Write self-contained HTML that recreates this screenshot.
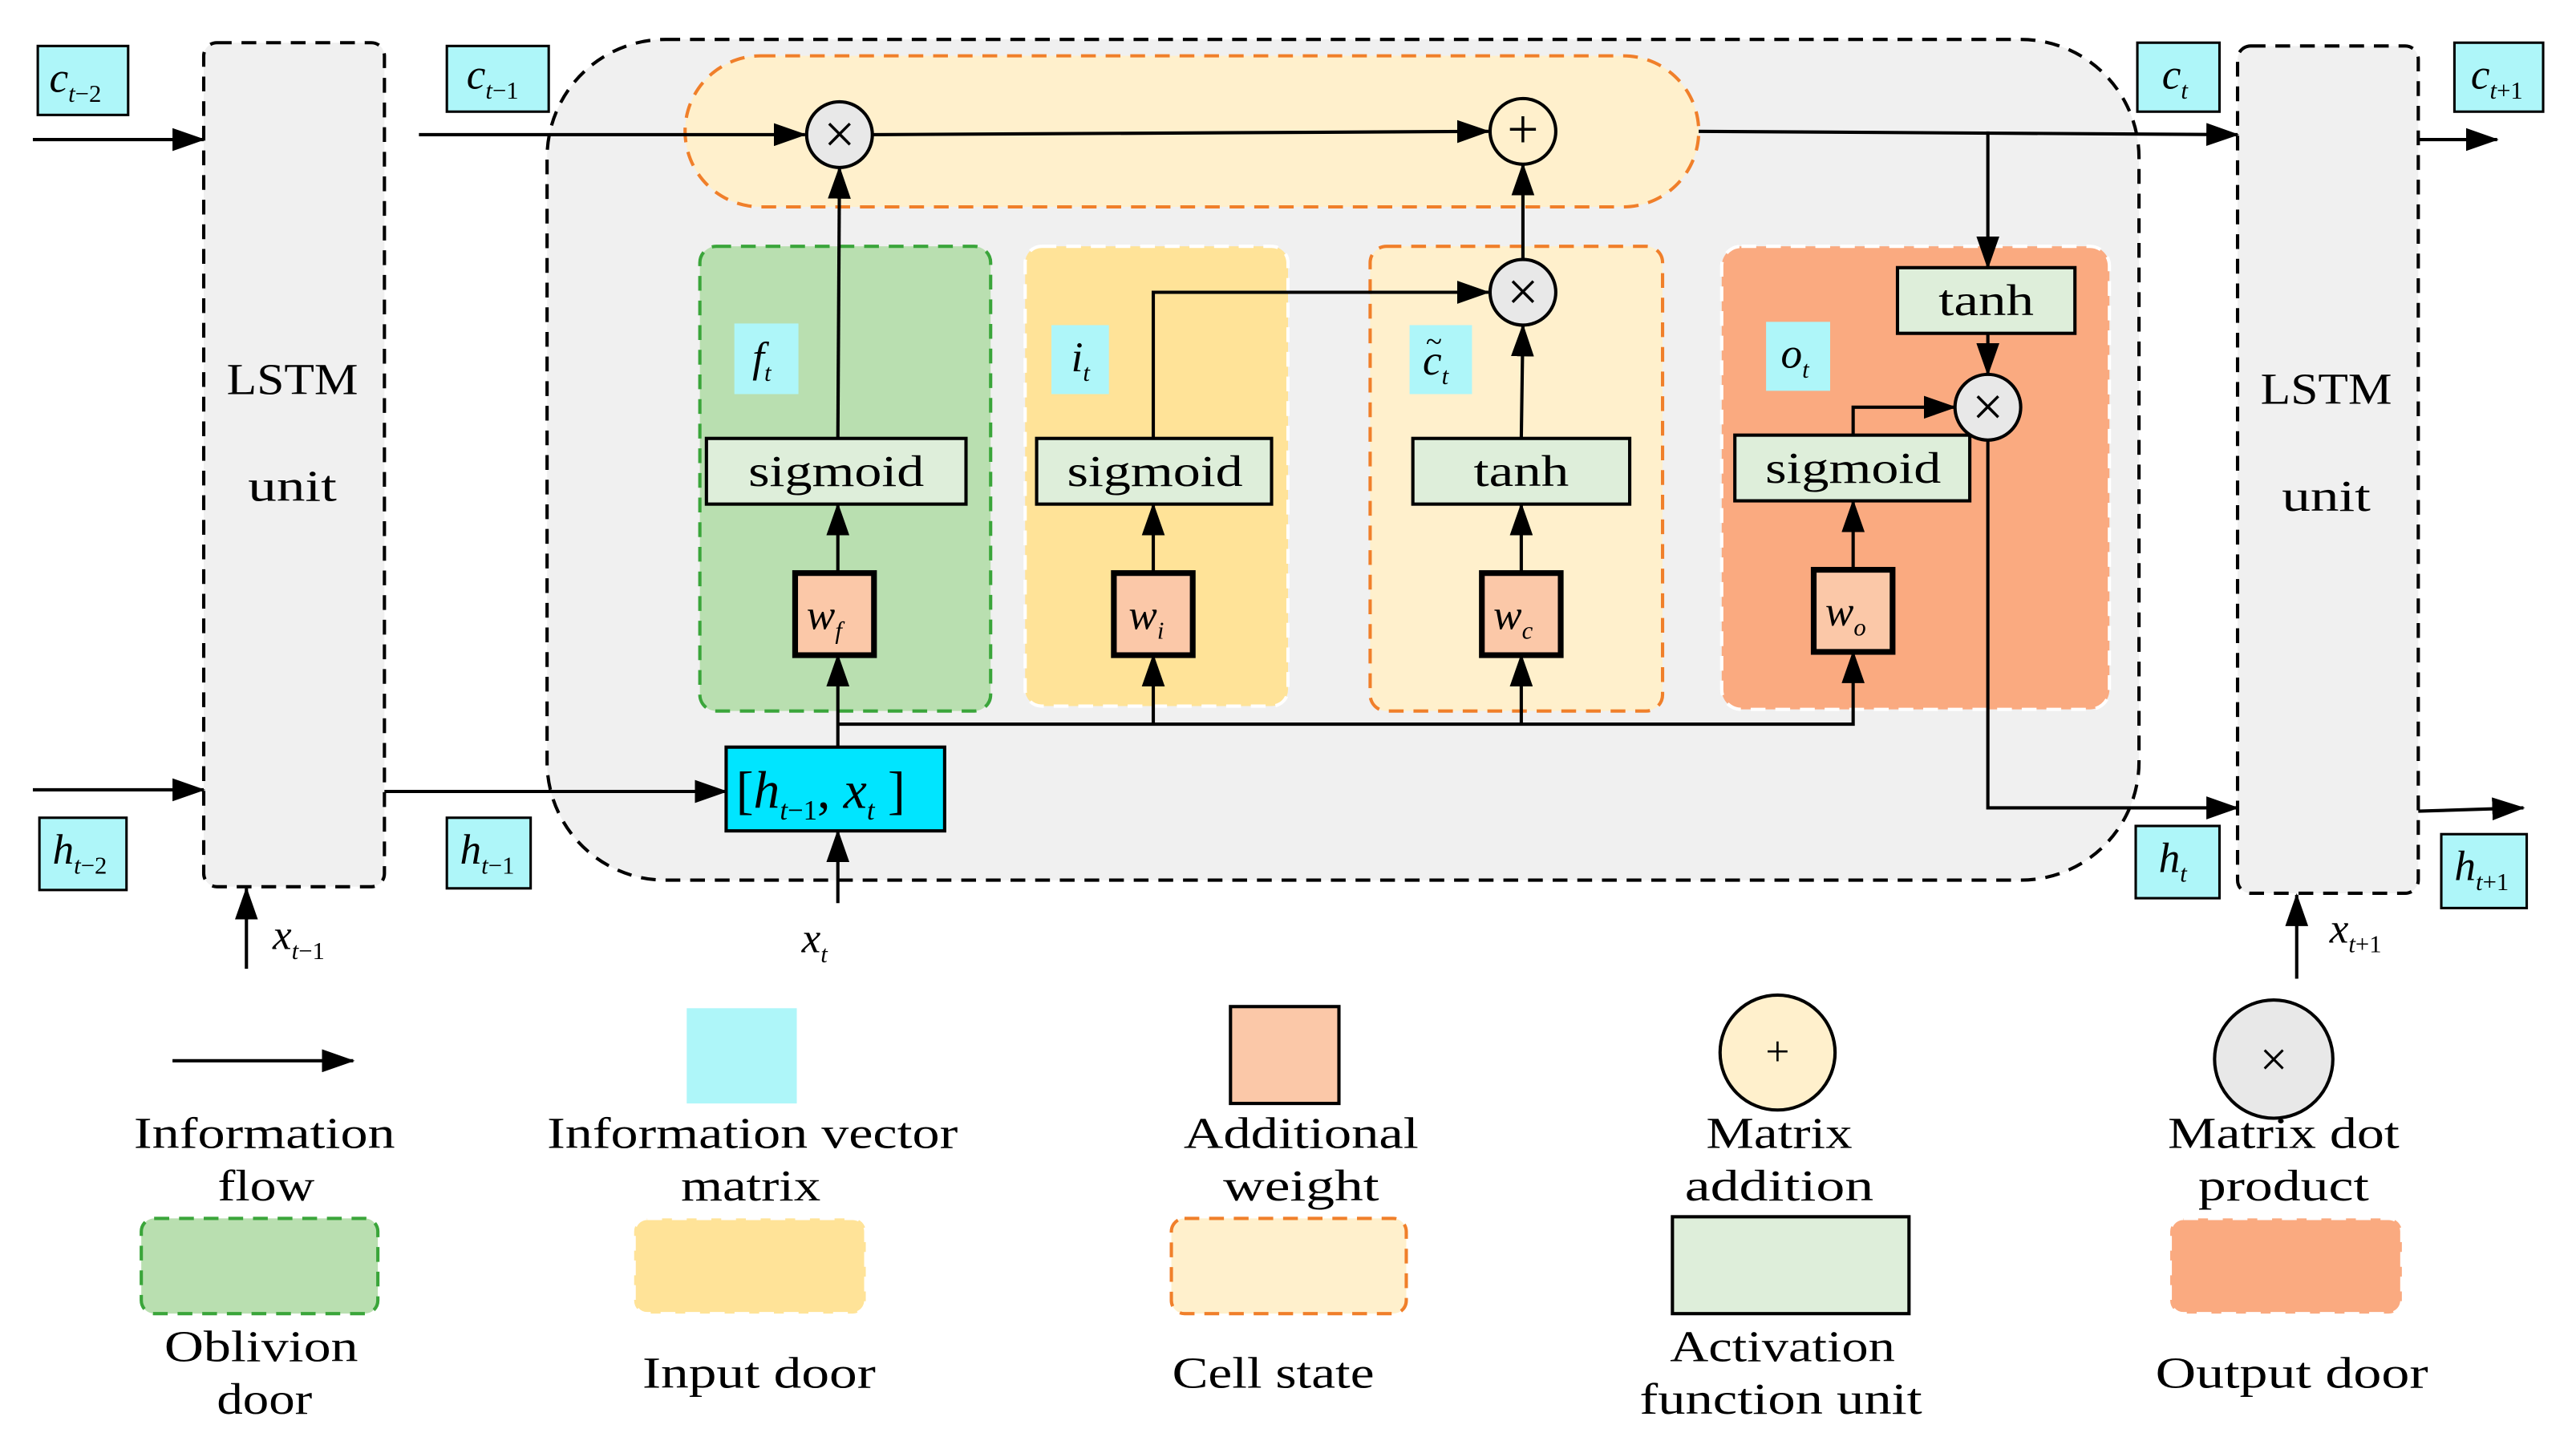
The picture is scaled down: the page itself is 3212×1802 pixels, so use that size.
<!DOCTYPE html>
<html><head><meta charset="utf-8"><style>
html,body{margin:0;padding:0;background:#fff;}
svg{display:block;}
text{font-family:"Liberation Serif",serif;fill:#000;}
.it{font-style:italic;}
</style></head><body>
<svg width="3212" height="1802" viewBox="0 0 1568 880" preserveAspectRatio="none" xmlns="http://www.w3.org/2000/svg">
<defs>
<marker id="b" markerWidth="20" markerHeight="14" refX="19" refY="7" orient="auto" markerUnits="userSpaceOnUse" viewBox="0 0 20 14"><path d="M0,0 L20,7 L0,14 z" fill="#000"/></marker>
</defs>
<g stroke-width="2" fill="none">
<rect x="333" y="24" width="969" height="512" rx="72" fill="#f0f0f0" stroke="#000" stroke-dasharray="9,6"/>
<rect x="124" y="26" width="110" height="514" rx="8" fill="#f0f0f0" stroke="#000" stroke-dasharray="9,6"/>
<rect x="1362" y="28" width="110" height="516" rx="8" fill="#f0f0f0" stroke="#000" stroke-dasharray="9,6"/>
<rect x="417" y="34" width="617" height="92" rx="46" fill="#fff0cc" stroke="#f07f2a" stroke-dasharray="9,6"/>
<rect x="426" y="150" width="177" height="283" rx="10" fill="#b9dfb0" stroke="#3aa53a" stroke-dasharray="9,6"/>
<rect x="624" y="150" width="160" height="280" rx="10" fill="#ffe398" stroke="#fff" stroke-dasharray="9,6"/>
<rect x="834" y="150" width="178" height="283" rx="10" fill="#fff0cc" stroke="#f07f2a" stroke-dasharray="9,6"/>
<rect x="1048" y="150" width="236" height="282" rx="12" fill="#faaa80" stroke="#fff" stroke-dasharray="9,6"/>
</g>
<g stroke="#000" stroke-width="2" fill="#deeeda">
<rect x="430" y="267" width="158" height="40"/>
<rect x="631" y="267" width="143" height="40"/>
<rect x="860" y="267" width="132" height="40"/>
<rect x="1056" y="265" width="143" height="40"/>
<rect x="1155" y="163" width="108" height="40"/>
</g>
<g font-size="27" text-anchor="middle" lengthAdjust="spacingAndGlyphs">
<text x="509" y="296" textLength="107" lengthAdjust="spacingAndGlyphs">sigmoid</text>
<text x="703" y="296" textLength="107" lengthAdjust="spacingAndGlyphs">sigmoid</text>
<text x="926" y="296" textLength="58" lengthAdjust="spacingAndGlyphs">tanh</text>
<text x="1128" y="294" textLength="107" lengthAdjust="spacingAndGlyphs">sigmoid</text>
<text x="1209" y="192" textLength="58" lengthAdjust="spacingAndGlyphs">tanh</text>
</g>
<g stroke="#000" stroke-width="3.5" fill="#fbc8a8">
<rect x="484" y="349" width="48" height="50"/>
<rect x="678" y="349" width="48" height="50"/>
<rect x="902" y="349" width="48" height="50"/>
<rect x="1104" y="347" width="48" height="50"/>
</g>
<g font-size="26">
<text x="491" y="383" class="it">w<tspan font-size="15" dy="6">f</tspan></text>
<text x="687" y="383" class="it">w<tspan font-size="15" dy="6">i</tspan></text>
<text x="909" y="383" class="it">w<tspan font-size="15" dy="6">c</tspan></text>
<text x="1111" y="381" class="it">w<tspan font-size="15" dy="6">o</tspan></text>
</g>
<rect x="442" y="455" width="133" height="51" fill="#00e5ff" stroke="#000" stroke-width="2"/>
<text x="448" y="492" font-size="32">[<tspan class="it">h</tspan><tspan font-size="17" dy="7" class="it">t</tspan><tspan font-size="17">−1</tspan><tspan dy="-7">, </tspan><tspan class="it">x</tspan><tspan font-size="17" dy="7" class="it">t</tspan><tspan dy="-7"> ]</tspan></text>
<g fill="#aef6f9" stroke="#000" stroke-width="1.5">
<rect x="23" y="28" width="55" height="42"/>
<rect x="272" y="28" width="62" height="40"/>
<rect x="1301" y="26" width="50" height="42"/>
<rect x="1494" y="26" width="54" height="42"/>
<rect x="24" y="498" width="53" height="44"/>
<rect x="272" y="498" width="51" height="43"/>
<rect x="1300" y="503" width="51" height="44"/>
<rect x="1486" y="508" width="52" height="45"/>
</g>
<g fill="#aef6f9">
<rect x="447" y="197" width="39" height="43"/>
<rect x="640" y="198" width="35" height="42"/>
<rect x="858" y="198" width="38" height="42"/>
<rect x="1075" y="196" width="39" height="42"/>
</g>
<g font-size="26">
<text x="30" y="56" class="it">c<tspan font-size="15" dy="6">t</tspan><tspan font-size="15" font-style="normal">−2</tspan></text>
<text x="284" y="54" class="it">c<tspan font-size="15" dy="6">t</tspan><tspan font-size="15" font-style="normal">−1</tspan></text>
<text x="1316" y="54" class="it">c<tspan font-size="15" dy="6">t</tspan></text>
<text x="1504" y="54" class="it">c<tspan font-size="15" dy="6">t</tspan><tspan font-size="15" font-style="normal">+1</tspan></text>
<text x="32" y="526" class="it">h<tspan font-size="15" dy="6">t</tspan><tspan font-size="15" font-style="normal">−2</tspan></text>
<text x="280" y="526" class="it">h<tspan font-size="15" dy="6">t</tspan><tspan font-size="15" font-style="normal">−1</tspan></text>
<text x="1314" y="531" class="it">h<tspan font-size="15" dy="6">t</tspan></text>
<text x="1494" y="536" class="it">h<tspan font-size="15" dy="6">t</tspan><tspan font-size="15" font-style="normal">+1</tspan></text>
<text x="458" y="226" class="it">f<tspan font-size="15" dy="6">t</tspan></text>
<text x="652" y="226" class="it">i<tspan font-size="15" dy="6">t</tspan></text>
<text x="866" y="228" class="it">c<tspan font-size="15" dy="6">t</tspan></text>
<text x="868" y="214" font-size="18">~</text>
<text x="1084" y="224" class="it">o<tspan font-size="15" dy="6">t</tspan></text>
<text x="166" y="578" class="it">x<tspan font-size="15" dy="6">t</tspan><tspan font-size="15" font-style="normal">−1</tspan></text>
<text x="488" y="580" class="it">x<tspan font-size="15" dy="6">t</tspan></text>
<text x="1418" y="574" class="it">x<tspan font-size="15" dy="6">t</tspan><tspan font-size="15" font-style="normal">+1</tspan></text>
</g>
<g font-size="27" text-anchor="middle">
<text x="178" y="240" textLength="80" lengthAdjust="spacingAndGlyphs">LSTM</text><text x="178" y="305" textLength="54" lengthAdjust="spacingAndGlyphs">unit</text>
<text x="1416" y="246" textLength="80" lengthAdjust="spacingAndGlyphs">LSTM</text><text x="1416" y="311" textLength="54" lengthAdjust="spacingAndGlyphs">unit</text>
</g>
<g stroke="#000" stroke-width="2" fill="none" marker-end="url(#b)">
<path d="M20,85 L124,85"/>
<path d="M20,481 L124,481"/>
<path d="M255,82 L490,82"/>
<path d="M531,82 L906,80"/>
<path d="M1034,80 L1362,82"/>
<path d="M1210,80 L1210,163"/>
<path d="M1210,268 L1210,492 L1362,492"/>
<path d="M234,482 L442,482"/>
<path d="M1472,85 L1520,85"/>
<path d="M1472,494 L1536,492"/>
<path d="M150,590 L150,541"/>
<path d="M510,550 L510,506"/>
<path d="M1398,596 L1398,545"/>
<path d="M510,455 L510,399"/>
<path d="M702,441 L702,399"/>
<path d="M926,441 L926,399"/>
<path d="M510,441 L1128,441 L1128,397"/>
<path d="M510,349 L510,307"/>
<path d="M702,349 L702,307"/>
<path d="M926,349 L926,307"/>
<path d="M1128,347 L1128,305"/>
<path d="M510,267 L511,102"/>
<path d="M926,267 L927,198"/>
<path d="M927,158 L927,100"/>
<path d="M702,267 L702,178 L906,178"/>
<path d="M1128,265 L1128,248 L1190,248"/>
<path d="M1210,203 L1210,228"/>
<path d="M105,646 L215,646"/>
</g>
<g stroke="#000" stroke-width="2">
<circle cx="511" cy="82" r="20" fill="#e8e8e8"/>
<circle cx="927" cy="80" r="20" fill="#fff0cc"/>
<circle cx="927" cy="178" r="20" fill="#e8e8e8"/>
<circle cx="1210" cy="248" r="20" fill="#e8e8e8"/>
<circle cx="1082" cy="641" r="35" fill="#fff0cc"/>
<circle cx="1384" cy="645" r="36" fill="#e8e8e8"/>
</g>
<g font-size="34" text-anchor="middle">
<text x="511" y="93">×</text><text x="927" y="90">+</text><text x="927" y="189">×</text><text x="1210" y="259">×</text>
<text x="1082" y="649" font-size="26">+</text><text x="1384" y="655" font-size="30">×</text>
</g>
<rect x="418" y="614" width="67" height="58" fill="#aef6f9"/>
<rect x="749" y="613" width="66" height="59" fill="#fbc8a8" stroke="#000" stroke-width="2"/>
<g stroke-width="2" stroke-dasharray="9,6">
<rect x="86" y="742" width="144" height="58" rx="8" fill="#b9dfb0" stroke="#3aa53a"/>
<rect x="386" y="742" width="141" height="58" rx="8" fill="#ffe398" stroke="#fff"/>
<rect x="713" y="742" width="143" height="58" rx="8" fill="#fff0cc" stroke="#f07f2a"/>
<rect x="1321" y="742" width="141" height="58" rx="8" fill="#faaa80" stroke="#fff"/>
</g>
<rect x="1018" y="741" width="144" height="59" fill="#deeeda" stroke="#000" stroke-width="2"/>
<g font-size="27" text-anchor="middle">
<text x="161" y="699" textLength="159" lengthAdjust="spacingAndGlyphs">Information</text><text x="162" y="731" textLength="59" lengthAdjust="spacingAndGlyphs">flow</text>
<text x="458" y="699" textLength="250" lengthAdjust="spacingAndGlyphs">Information vector</text><text x="457" y="731" textLength="85" lengthAdjust="spacingAndGlyphs">matrix</text>
<text x="792" y="699" textLength="143" lengthAdjust="spacingAndGlyphs">Additional</text><text x="792" y="731" textLength="95" lengthAdjust="spacingAndGlyphs">weight</text>
<text x="1083" y="699" textLength="89" lengthAdjust="spacingAndGlyphs">Matrix</text><text x="1083" y="731" textLength="115" lengthAdjust="spacingAndGlyphs">addition</text>
<text x="1390" y="699" textLength="141" lengthAdjust="spacingAndGlyphs">Matrix dot</text><text x="1390" y="731" textLength="104" lengthAdjust="spacingAndGlyphs">product</text>
<text x="159" y="829" textLength="118" lengthAdjust="spacingAndGlyphs">Oblivion</text><text x="161" y="861" textLength="58" lengthAdjust="spacingAndGlyphs">door</text>
<text x="462" y="845" textLength="142" lengthAdjust="spacingAndGlyphs">Input door</text>
<text x="775" y="845" textLength="123" lengthAdjust="spacingAndGlyphs">Cell state</text>
<text x="1085" y="829" textLength="137" lengthAdjust="spacingAndGlyphs">Activation</text><text x="1084" y="861" textLength="172" lengthAdjust="spacingAndGlyphs">function unit</text>
<text x="1395" y="845" textLength="166" lengthAdjust="spacingAndGlyphs">Output door</text>
</g>
</svg>
</body></html>
